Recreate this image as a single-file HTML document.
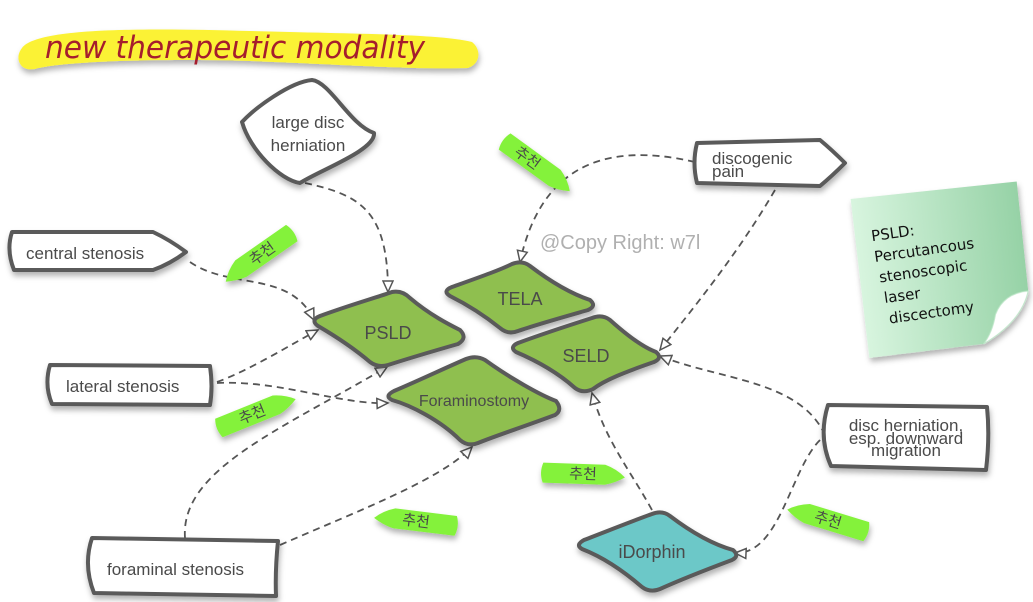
<!DOCTYPE html>
<html><head><meta charset="utf-8"><style>
html,body{margin:0;padding:0;background:#fff;}
svg{display:block;}
.t{font-family:"Liberation Sans","Noto Sans CJK KR",sans-serif;fill:#4a4a4a;}
.k{font-family:"Liberation Sans","Noto Sans CJK KR",sans-serif;fill:#4a4a4a;font-size:15px;}
.w{fill:#fff;stroke:#5a5a5a;stroke-width:4;stroke-linejoin:round;}
.g{fill:#8fbf4f;stroke:#5a5a5a;stroke-width:4;stroke-linejoin:round;}
.c{fill:none;stroke:#555;stroke-width:1.8;stroke-dasharray:7 5;marker-end:url(#ar);}
.tag{fill:#84f23a;}
</style></head><body>
<svg width="1033" height="602" viewBox="0 0 1033 602" xmlns="http://www.w3.org/2000/svg">
<defs>
<marker id="ar" markerWidth="14" markerHeight="12" refX="12" refY="6" orient="auto" markerUnits="userSpaceOnUse">
<path d="M1,1 L12,6 L1,11 Z" fill="#fff" stroke="#555" stroke-width="1.5"/>
</marker>
<filter id="sh" x="-20%" y="-20%" width="140%" height="150%"><feDropShadow dx="1" dy="4" stdDeviation="3" flood-color="#000" flood-opacity="0.3"/></filter>
<linearGradient id="ng" x1="0" y1="0" x2="1" y2="0"><stop offset="0" stop-color="#d8f5df"/><stop offset="1" stop-color="#96d2a6"/></linearGradient>
<path id="tr" d="M-40,-10 L22,-10 Q34,-6 42,2 Q32,8 22,10 L-40,10 Q-44,0 -40,-10 Z"/>
<path id="tl" d="M40,-10 L-22,-10 Q-34,-6 -42,2 Q-32,8 -22,10 L40,10 Q44,0 40,-10 Z"/>
</defs>

<!-- title -->
<path d="M22,48 C35,30 120,27 250,31 C360,34 440,34 472,42 C482,50 480,64 468,68 C420,70 330,64 250,61 C150,58 60,62 35,69 C20,72 14,58 22,48 Z" fill="#fbf236" filter="url(#sh)"/>
<text x="45" y="58" font-family="'DejaVu Sans',cursive" font-style="italic" font-size="31" fill="#a51d2d" textLength="380" lengthAdjust="spacingAndGlyphs">new therapeutic modality</text>

<!-- connectors -->
<path class="c" d="M305,183 C360,195 388,210 388,292"/>
<path class="c" d="M190,262 C230,290 290,270 314,320"/>
<path class="c" d="M217,382 C250,370 290,345 318,330"/>
<path class="c" d="M217,383 C280,380 340,405 388,403"/>
<path class="c" d="M185,538 C180,470 280,430 387,367"/>
<path class="c" d="M280,545 C360,510 440,480 472,447"/>
<path class="c" d="M695,162 C600,140 540,170 520,262"/>
<path class="c" d="M775,190 C740,250 700,300 660,350"/>
<path class="c" d="M825,435 C800,380 720,380 660,356"/>
<path class="c" d="M820,440 C790,470 780,555 735,553"/>
<path class="c" d="M652,510 C630,470 605,440 592,393"/>

<!-- white nodes -->
<g filter="url(#sh)">
<path class="w" d="M242,122 C255,108 290,82 312,80 C330,82 350,125 374,133 C376,150 320,170 300,183 C280,180 250,150 242,122 Z"/>
<path class="w" d="M697,143 L820,140 Q832,150 845,163 Q832,176 820,186 L697,183 Q692,163 697,143 Z"/>
<path class="w" d="M12,232 L153,232 Q170,240 186,252 Q170,264 153,270 L14,270 Q6,250 12,232 Z"/>
<path class="w" d="M50,365 L210,366 Q213,387 210,405 L52,404 Q44,385 50,365 Z"/>
<path class="w" d="M92,538 L278,541 Q275,570 276,596 L94,593 Q83,565 92,538 Z"/>
<path class="w" d="M828,405 L987,407 Q990,437 986,470 L831,466 Q818,437 828,405 Z"/>
</g>
<text class="t" font-size="17" x="308" y="128" text-anchor="middle" fill="#222">large disc</text>
<text class="t" font-size="17" x="308" y="151" text-anchor="middle" fill="#222">herniation</text>
<text class="t" font-size="17" x="712" y="164">discogenic</text>
<text class="t" font-size="17" x="712" y="177">pain</text>
<text class="t" font-size="17" x="26" y="259">central stenosis</text>
<text class="t" font-size="17" x="66" y="392">lateral stenosis</text>
<text class="t" font-size="17" x="107" y="575">foraminal stenosis</text>
<text class="t" font-size="17" x="906" y="431" text-anchor="middle">disc herniation,</text>
<text class="t" font-size="17" x="906" y="444" text-anchor="middle">esp. downward</text>
<text class="t" font-size="17" x="906" y="456" text-anchor="middle">migration</text>

<!-- green diamonds -->
<g filter="url(#sh)">
<path class="g" d="M320,316 C350,305 375,298 392,292 Q402,290 410,298 C430,315 450,325 460,330 Q468,338 458,344 C430,352 410,358 388,365 Q378,368 370,362 C350,345 330,333 318,326 Q310,320 320,316 Z"/>
<path class="g" d="M452,287 C480,277 500,270 512,264 Q522,260 530,266 C555,285 575,295 590,300 Q597,306 588,310 C560,318 535,325 518,331 Q508,335 500,328 C480,312 462,302 450,296 Q442,291 452,287 Z"/>
<path class="g" d="M518,343 C545,333 570,325 592,318 Q602,314 610,320 C630,338 645,348 656,352 Q663,358 654,362 C625,372 605,380 593,389 Q583,394 575,388 C555,370 530,358 516,352 Q509,347 518,343 Z"/>
<path class="g" d="M394,391 C420,380 445,368 466,359 Q476,355 485,360 C510,378 540,395 556,401 Q563,410 555,415 C520,428 495,436 478,443 Q468,447 460,440 C440,420 410,405 392,400 Q384,396 394,391 Z"/>
<path d="M584,540 C610,530 635,520 652,514 Q662,510 670,516 C695,535 715,545 733,550 Q740,556 732,560 C700,572 680,580 660,589 Q650,593 642,587 C620,568 600,556 582,549 Q575,545 584,540 Z" fill="#6cc8c8" stroke="#5a5a5a" stroke-width="4" stroke-linejoin="round"/>
</g>
<text class="t" font-size="18" x="388" y="339" text-anchor="middle">PSLD</text>
<text class="t" font-size="18" x="520" y="305" text-anchor="middle">TELA</text>
<text class="t" font-size="18" x="586" y="362" text-anchor="middle">SELD</text>
<text class="t" font-size="16" x="474" y="406" text-anchor="middle">Foraminostomy</text>
<text class="t" font-size="18" x="652" y="558" text-anchor="middle">iDorphin</text>

<!-- copyright -->
<text x="540" y="249" font-family="'Liberation Sans',sans-serif" font-size="20" fill="#b0b0b0">@Copy Right: w7l</text>

<!-- tags -->
<g filter="url(#sh)">
<g transform="translate(537,165) rotate(36)"><use href="#tr" class="tag"/><text class="k" x="-12" y="5" text-anchor="middle">추천</text></g>
<g transform="translate(259,256) rotate(-35)"><use href="#tl" class="tag"/><text class="k" x="4" y="5" text-anchor="middle">추천</text></g>
<g transform="translate(256,413) rotate(-22)"><use href="#tr" class="tag"/><text class="k" x="-4" y="5" text-anchor="middle">추천</text></g>
<g transform="translate(583,474) rotate(2)"><use href="#tr" class="tag"/><text class="k" x="0" y="5" text-anchor="middle">추천</text></g>
<g transform="translate(416,521) rotate(7)"><use href="#tl" class="tag"/><text class="k" x="0" y="5" text-anchor="middle">추천</text></g>
<g transform="translate(828,520) rotate(17)"><use href="#tl" class="tag"/><text class="k" x="0" y="5" text-anchor="middle">추천</text></g>
</g>

<!-- sticky note -->
<g transform="rotate(-6 940 265)" filter="url(#sh)">
<path d="M858,190 L1025,190 L1025,300 Q1000,300 990,320 Q985,338 975,348 L860,350 Z" fill="url(#ng)"/>
<path d="M990,320 Q1000,300 1025,300 Q1015,330 975,348 Q985,338 990,320 Z" fill="#fff" stroke="#bde6c8"/>
</g>
<g transform="rotate(-8 940 265)" font-family="'DejaVu Sans',sans-serif" font-size="15" fill="#111">
<text x="876" y="232">PSLD:</text>
<text x="876" y="253">Percutancous</text>
<text x="878" y="274">stenoscopic</text>
<text x="880" y="295">laser</text>
<text x="882" y="316">discectomy</text>
</g>
</svg>
</body></html>
